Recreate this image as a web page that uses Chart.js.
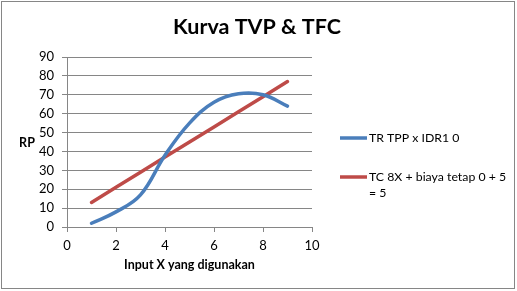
<!DOCTYPE html>
<html><head><meta charset="utf-8">
<script src="https://cdn.jsdelivr.net/npm/chart.js@4"></script>
<style>html,body{margin:0;padding:0;background:#fff}#wrap{width:517px;height:291px;position:relative}</style>
</head><body><div id="wrap"><canvas id="c" width="517" height="291"></canvas></div>
<script>
const chartTitle = "Kurva TVP & TFC";
const xTitle = "Input X yang digunakan";
const yTitle = "RP";
const inputX = [1, 2, 3, 4, 5, 6, 7, 8, 9];
const trValues = [2, 8, 17, 38, 55, 66, 70.5, 70, 64];
const tcValues = [13, 21, 29, 37, 45, 53, 61, 69, 77];
const seriesNames = ["TR TPP x IDR1 0", ["TC 8X + biaya tetap 0 + 5", "= 5"]];
const colors = ["#4A7EBB", "#BE4B48"];

const FONT = "Lato, 'Open Sans', sans-serif";
const pts = (xs, ys) => xs.map((x, i) => ({x, y: ys[i]}));

const deco = {
  id: 'deco',
  afterDraw(chart) {
    const ctx = chart.ctx, a = chart.chartArea;
    ctx.save();
    ctx.strokeStyle = '#868686'; ctx.lineWidth = 1;
    ctx.strokeRect(1.5, 1.5, 513, 287);
    ctx.fillStyle = '#000';
    ctx.textAlign = 'center'; ctx.textBaseline = 'middle';
    ctx.font = "bold 21.5px " + FONT;
    ctx.fillText(chartTitle, 257, 27);
    ctx.font = "bold 12.5px " + FONT;
    ctx.fillText(xTitle, (a.left + a.right) / 2, 265);
    ctx.fillText(yTitle, 27, 143);
    // legend
    const ly = [138, 177];
    ctx.textAlign = 'left';
    ctx.font = "12.3px " + FONT;
    seriesNames.forEach((n, i) => {
      ctx.strokeStyle = colors[i]; ctx.lineWidth = 3.5;
      ctx.beginPath(); ctx.moveTo(340, ly[i]); ctx.lineTo(367, ly[i]); ctx.stroke();
      const lines = Array.isArray(n) ? n : [n];
      lines.forEach((t, j) => ctx.fillText(t, 369, ly[i] + j * 16));
    });
    ctx.restore();
  }
};

new Chart(document.getElementById('c'), {
  type: 'scatter',
  data: {
    datasets: [
      {label: seriesNames[0], data: pts(inputX, trValues), showLine: true, borderColor: colors[0], backgroundColor: colors[0], borderWidth: 3.5, pointRadius: 0, tension: 0.4, borderCapStyle: 'round'},
      {label: seriesNames[1].join(' '), data: pts(inputX, tcValues), showLine: true, borderColor: colors[1], backgroundColor: colors[1], borderWidth: 3.5, pointRadius: 0, tension: 0, borderCapStyle: 'round'}
    ]
  },
  options: {
    responsive: false, animation: false,
    layout: {padding: {top: 57, right: 205, left: 0, bottom: 0}},
    plugins: {legend: {display: false}, tooltip: {enabled: false}},
    scales: {
      x: {
        min: 0, max: 10,
        ticks: {stepSize: 2, color: '#000', font: {family: FONT, size: 13}, padding: 6, maxRotation: 0},
        grid: {display: true, drawOnChartArea: false, color: '#868686', tickLength: 5},
        border: {color: '#868686'},
        afterFit(s) { s.height = 64; }
      },
      y: {
        min: 0, max: 90,
        ticks: {stepSize: 10, color: '#000', font: {family: FONT, size: 13}, padding: 8},
        grid: {color: '#868686', tickLength: 5},
        border: {color: '#868686'},
        afterFit(s) { s.width = 67; }
      }
    }
  },
  plugins: [deco]
});
</script></body></html>
